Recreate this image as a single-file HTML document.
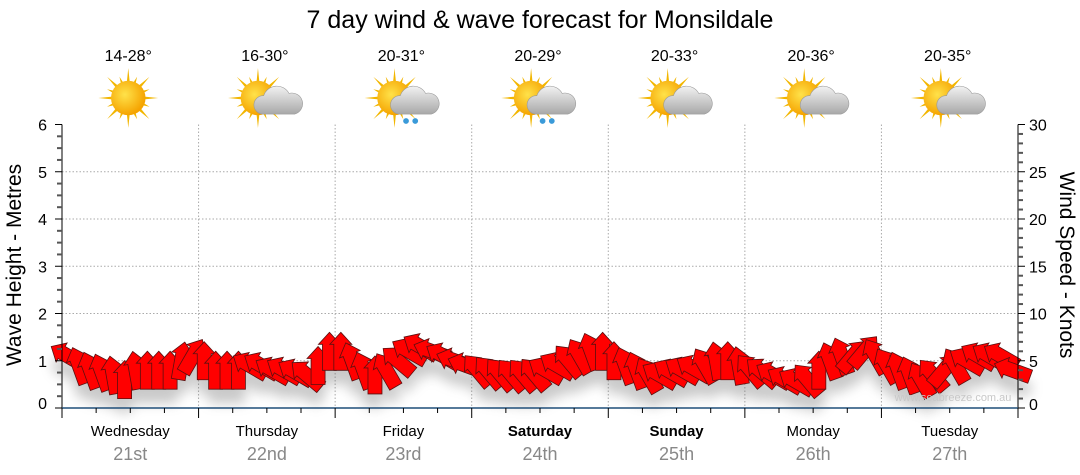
<!DOCTYPE html>
<html><head><meta charset="utf-8"><style>
body{margin:0;background:#fff;}
svg{display:block;font-family:"Liberation Sans",sans-serif;}
</style></head><body>
<svg id="chart" width="1080" height="475" viewBox="0 0 1080 475" xmlns="http://www.w3.org/2000/svg">
<defs>
<filter id="shadow" x="-20%" y="-50%" width="140%" height="200%"><feGaussianBlur stdDeviation="6"/></filter>
<radialGradient id="sunG" cx="40%" cy="40%" r="60%"><stop offset="0" stop-color="#ffe24a"/><stop offset="1" stop-color="#f5a300"/></radialGradient>
<linearGradient id="cloudG" x1="0" y1="0" x2="0" y2="1"><stop offset="0" stop-color="#f2f2f2"/><stop offset="1" stop-color="#a8a8a8"/></linearGradient>
</defs>
<text x="540" y="28" text-anchor="middle" font-size="25" fill="#000">7 day wind &amp; wave forecast for Monsildale</text>
<g id="header"></g>
<g id="grid"></g>
<g id="shadowLayer" filter="url(#shadow)" opacity="0.35"></g>
<g id="arrows"></g>
<g id="axes"></g>
<text x="953" y="401" text-anchor="middle" font-size="11" fill="#c8c8c8">www.seabreeze.com.au</text>
<text transform="translate(21,265) rotate(-90)" text-anchor="middle" font-size="21" fill="#000">Wave Height - Metres</text>
<text transform="translate(1060,265) rotate(90)" text-anchor="middle" font-size="21" fill="#000">Wind Speed - Knots</text>
</svg>
<script>
const days = ["Wednesday","Thursday","Friday","Saturday","Sunday","Monday","Tuesday"];
const dates = ["21st","22nd","23rd","24th","25th","26th","27th"];
const temps = ["14-28°","16-30°","20-31°","20-29°","20-33°","20-36°","20-35°"];
const icons = ["sun","cloud","rain","rain","cloud","cloud","cloud"];
const boldDays = [false,false,false,true,true,false,false];
const waveTicks = [0,1,2,3,4,5,6];
const windTicks = [0,5,10,15,20,25,30];
const windSpeed = [5.5,4.5,4,3.8,3.5,3,4,4,4,4,5,5.5,
 5,4,4,4,4.5,4.5,4,4,3.8,3.5,4.5,6,
 6,5,4,3.5,4,5,6,6.5,6,5.5,5,4.5,
 4,3.8,3.6,3.5,3.5,3.6,4,4.5,5,5.5,6,6,
 5,4.5,4,3.5,3.5,3.8,4,4.2,4.5,5,5,4.5,
 4,3.8,3.5,3,2.8,3,4,5,5.5,5.5,6,5.5,
 4.5,4,3.5,3,3.5,4,4.5,5,5.5,5.5,5.5,4];
const windDir = [-60,-20,-20,-20,-10,0,-10,0,0,0,10,30,
 0,0,0,0,-60,-60,-60,-60,-60,-50,0,0,
 0,-20,-20,0,-30,-50,-60,-60,-70,-60,-70,-70,
 -40,-40,-40,-40,-40,-40,-60,-60,-40,-30,-20,0,
 0,-20,-20,-30,-60,-60,-60,-60,-30,-10,0,-10,
 -40,-50,-60,-60,-60,-40,0,-20,-20,40,40,-30,
 -30,-20,-20,-30,-40,40,-30,-60,-60,-60,-60,-70];

const NS="http://www.w3.org/2000/svg";
const X0=62,X1=1018,Y0=408,YT=124.5;
const dayW=(X1-X0)/days.length;
function xDay(i){return X0+i*dayW;}
function xPt(i){return X0+(i+0.5)*(X1-X0)/windSpeed.length;}
function yWave(v){return Y0-(Y0-YT)*v/6;}
function yWind(k){return Y0-(Y0-YT)*k/30;}
function mk(tag,attrs,parent){const e=document.createElementNS(NS,tag);for(const k in attrs)e.setAttribute(k,attrs[k]);parent.appendChild(e);return e;}
const grid=document.getElementById('grid'),axes=document.getElementById('axes'),hdr=document.getElementById('header');

for(const t of waveTicks){ if(t===0||t===6)continue;
 const l=mk('line',{x1:X0,x2:X1,y1:yWave(t),y2:yWave(t),stroke:'#aaa','stroke-dasharray':'1.5,2'},grid);
 
 }
for(let i=1;i<days.length;i++){
 const l=mk('line',{x1:xDay(i),x2:xDay(i),y1:YT,y2:Y0,stroke:'#aaa','stroke-dasharray':'1.5,2'},grid);
 
 }

mk('line',{x1:X0,x2:X0,y1:YT,y2:Y0+6,stroke:'#000'},axes);
mk('line',{x1:X1,x2:X1,y1:YT,y2:Y0+6,stroke:'#000'},axes);
const xa=mk('line',{x1:X0,x2:X1,y1:Y0,y2:Y0,stroke:'#1f4e79','stroke-width':1.5},axes);


for(let v=0;v<=6.001;v+=0.25){const y=yWave(v);const major=Math.abs(v-Math.round(v))<1e-6;
 mk('line',{x1:major?X0-7:X0-5,x2:X0,y1:y,y2:y,stroke:major?'#000':'#555','stroke-width':major?1:2},axes);}
for(const t of waveTicks){const tx=mk('text',{x:47,y:yWave(t)+6-(t===0?5:0),'text-anchor':'end','font-size':16,fill:'#000'},axes);tx.textContent=t;
 
 }
for(let k=0;k<=30;k++){const y=yWind(k);const major=k%5===0;
 mk('line',{x1:X1,x2:X1+(major?7:5),y1:y,y2:y,stroke:major?'#000':'#555','stroke-width':major?1:2},axes);}
for(const t of windTicks){const tx=mk('text',{x:1029,y:yWind(t)+6-(t===0?4:0),'font-size':16,fill:'#000'},axes);tx.textContent=t;
 
 }
for(let i=0;i<=days.length*4;i++){const x=X0+i*dayW/4;const major=i%4===0;
 mk('line',{x1:x,x2:x,y1:Y0,y2:Y0+(major?10:5),stroke:'#000'},axes);}
days.forEach((d,i)=>{const cx=xDay(i)+dayW/2;
 const t=mk('text',{x:cx,y:436,'text-anchor':'middle','font-size':15,fill:'#000','font-weight':boldDays[i]?'bold':'normal'},axes);t.textContent=d;
 
 
 const t2=mk('text',{x:cx,y:460,'text-anchor':'middle','font-size':18,fill:'#888'},axes);t2.textContent=dates[i];
 
 
 const t3=mk('text',{x:cx-2,y:61,'text-anchor':'middle','font-size':16,fill:'#000'},hdr);t3.textContent=temps[i];
 
 
 const g=mk('g',{transform:`translate(${cx-2},98) scale(1.15)`},hdr);
 
 
 const sx=icons[i]==='sun'?0:-6;
 for(let r=0;r<16;r++){const a=r*Math.PI/8,len=r%2?20:26;
  mk('polygon',{points:`${sx+Math.cos(a-0.12)*12},${Math.sin(a-0.12)*12} ${sx+Math.cos(a)*len},${Math.sin(a)*len} ${sx+Math.cos(a+0.12)*12},${Math.sin(a+0.12)*12}`,fill:'#f2b600'},g);}
 mk('circle',{cx:sx,cy:0,r:15,fill:'url(#sunG)'},g);
 if(icons[i]!=='sun'){
  mk('path',{d:'M-2,14 a8,8 0 0 1 1,-16 a12,12 0 0 1 22,-2 a9,9 0 0 1 5,18 z',fill:'url(#cloudG)',stroke:'#999','stroke-width':0.5},g);
  if(icons[i]==='rain'){mk('circle',{cx:4,cy:20,r:2.5,fill:'#3a9ad9'},g);mk('circle',{cx:12,cy:20,r:2.5,fill:'#3a9ad9'},g);}
 }
});

const arrowPts="0,-19 11,-7 7,-7 7,19 -7,19 -7,-7 -11,-7";
const sh=document.getElementById('shadowLayer'),ar=document.getElementById('arrows');
windSpeed.forEach((k,i)=>{const x=xPt(i),y=yWind(k);
 mk('polygon',{points:arrowPts,transform:`translate(${x},${y+14}) rotate(${windDir[i]})`,fill:'#666'},sh);
 const p=mk('polygon',{points:arrowPts,transform:`translate(${x},${y}) rotate(${windDir[i]})`,fill:'#ff0000',stroke:'#5a1010','stroke-width':0.8},ar);
 
 
});
</script>
</body></html>
